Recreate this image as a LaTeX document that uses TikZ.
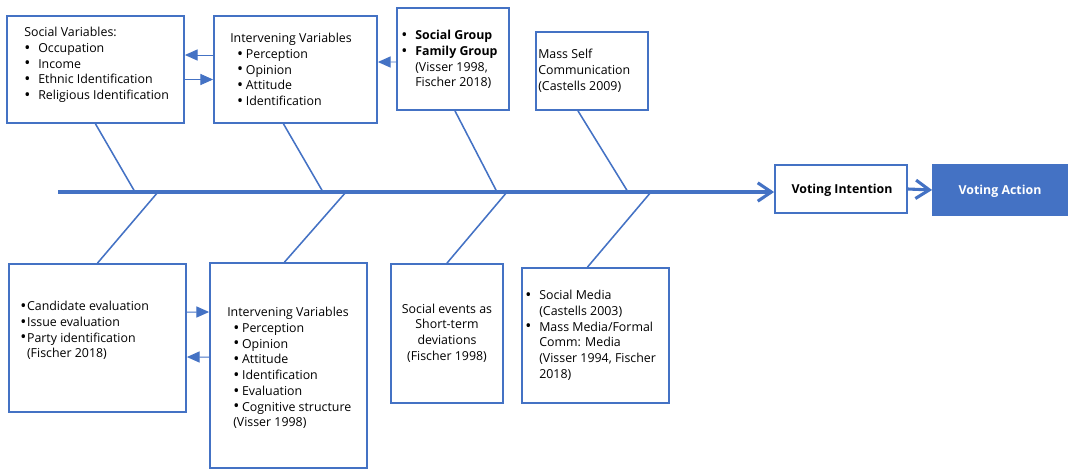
\documentclass[tikz,border=0pt]{standalone}
\usepackage{fontspec}
\setmainfont{Open Sans}
\usetikzlibrary{arrows.meta, positioning, fit, calc}
\definecolor{fbblue}{HTML}{4472C4}
\newcommand{\bl}[1]{\makebox[#1][l]{\raisebox{-0.12ex}{\scalebox{1.3}{\textbullet}}}}

\begin{document}
\begin{tikzpicture}[
  x=0.025cm,y=-0.025cm,
  frame/.style={draw=fbblue, line width=1.3pt, inner sep=0pt},
  txt/.style={anchor=north west, inner sep=0pt, align=left, font=\fontsize{8.8}{11.2}\selectfont},
  head/.style={inner sep=0pt, font=\fontsize{8.8}{11.2}\selectfont\bfseries},
  bone/.style={draw=fbblue, line width=1.1pt},
  link/.style={draw=fbblue, line width=0.7pt, -{Triangle[length=3.2mm, width=2.8mm]}},
  spine/.style={draw=fbblue, line width=2.2pt, -{Straight Barb[length=3.4mm, width=4.6mm]}}
]
\useasboundingbox (0,0) rectangle (1070,469);

% boxes
\node[frame, fit={(7,16) (184,123)}] (sv) {};
\node[frame, fit={(214,16) (377,123)}] (iv1) {};
\node[frame, fit={(397,8) (509,110)}] (sg) {};
\node[frame, fit={(536,32) (648,110)}] (ms) {};
\node[frame, fit={(9,264) (186,412)}] (ce) {};
\node[frame, fit={(210,263) (367,468)}] (iv2) {};
\node[frame, fit={(391,264) (503,403)}] (se) {};
\node[frame, fit={(522,268) (669,403)}] (sm) {};
\node[frame, fit={(775,165) (907,213)}] (vi) {};
\node[frame, fill=fbblue, fit={(933,165) (1067,215)}] (va) {};

% box texts
\node[head] (vit) at (842,190) {Voting Intention};
\node[head, text=white] (vat) at (1000,191) {Voting Action};
\node[txt, anchor=center, align=center] (set) at (447,333) {Social events as\\Short-term\\deviations\\(Fischer 1998)};
\node[txt] (svt) at (24,27) {Social Variables:\\
  \bl{0.35cm}Occupation\\
  \bl{0.35cm}Income\\
  \bl{0.35cm}Ethnic Identification\\
  \bl{0.35cm}Religious Identification};
\node[txt] (iv1t) at (230,33) {Intervening Variables\\
  \hspace*{0.17cm}\bl{0.22cm}Perception\\
  \hspace*{0.17cm}\bl{0.22cm}Opinion\\
  \hspace*{0.17cm}\bl{0.22cm}Attitude\\
  \hspace*{0.17cm}\bl{0.22cm}Identification};
\node[txt] (sgt) at (401,30) {\bl{0.35cm}\textbf{Social Group}\\
  \bl{0.35cm}\textbf{Family Group}\\
  \hspace*{0.35cm}(Visser 1998,\\
  \hspace*{0.35cm}Fischer 2018)};
\node[txt] (mst) at (538,49) {Mass Self\\Communication\\(Castells 2009)};
\node[txt] (cet) at (20,301) {\bl{0.17cm}Candidate evaluation\\
  \bl{0.17cm}Issue evaluation\\
  \bl{0.17cm}Party identification\\
  \hspace*{0.17cm}(Fischer 2018)};
\node[txt] (iv2t) at (227,307) {Intervening Variables\\
  \hspace*{0.15cm}\bl{0.22cm}Perception\\
  \hspace*{0.15cm}\bl{0.22cm}Opinion\\
  \hspace*{0.15cm}\bl{0.22cm}Attitude\\
  \hspace*{0.15cm}\bl{0.22cm}Identification\\
  \hspace*{0.15cm}\bl{0.22cm}Evaluation\\
  \hspace*{0.15cm}\bl{0.22cm}Cognitive structure\\
  \hspace*{0.15cm}(Visser 1998)};
\node[txt] (smt) at (525,290) {\bl{0.35cm}Social Media\\
  \hspace*{0.35cm}(Castells 2003)\\
  \bl{0.35cm}Mass Media/Formal\\
  \hspace*{0.35cm}Comm: Media\\
  \hspace*{0.35cm}(Visser 1994, Fischer\\
  \hspace*{0.35cm}2018)};

% spine and joints
\coordinate (tail) at (58,192);
\coordinate (t1) at (135,192);
\coordinate (t2) at (323,192);
\coordinate (t3) at (497,192);
\coordinate (t4) at (628,192);
\coordinate (b1) at (158,192);
\coordinate (b2) at (346,192);
\coordinate (b3) at (507,192);
\coordinate (b4) at (651,192);

\draw[spine] (tail) -- (tail -| vi.west);
\draw[spine] (vi.east) -- (va.west);

% upper bones
\draw[bone] (sv.south) -- (t1);
\draw[bone] ($(iv1.south)+(-12,0)$) -- (t2);
\draw[bone] ($(sg.south)+(2,0)$) -- (t3);
\draw[bone] ($(ms.south)+(-14,0)$) -- (t4);

% lower bones
\draw[bone] (b1) -- (ce.north);
\draw[bone] (b2) -- ($(iv2.north)+(-4,0)$);
\draw[bone] (b3) -- (se.north);
\draw[bone] (b4) -- ($(sm.north)+(-8,0)$);

% links between boxes
\draw[link] ($(iv1.west)+(0,-14.5)$) -- ($(sv.east)+(0,-14.5)$);
\draw[link] ($(sv.east)+(0,10)$) -- ($(iv1.west)+(0,10)$);
\draw[link] ($(sg.west)+(0,3)$) -- ($(iv1.east)+(0,-7.5)$);
\draw[link] ($(ce.east)+(0,-26)$) -- ($(iv2.west)+(0,-53.5)$);
\draw[link] ($(iv2.west)+(0,-8.5)$) -- ($(ce.east)+(0,19)$);

\end{tikzpicture}
\end{document}
